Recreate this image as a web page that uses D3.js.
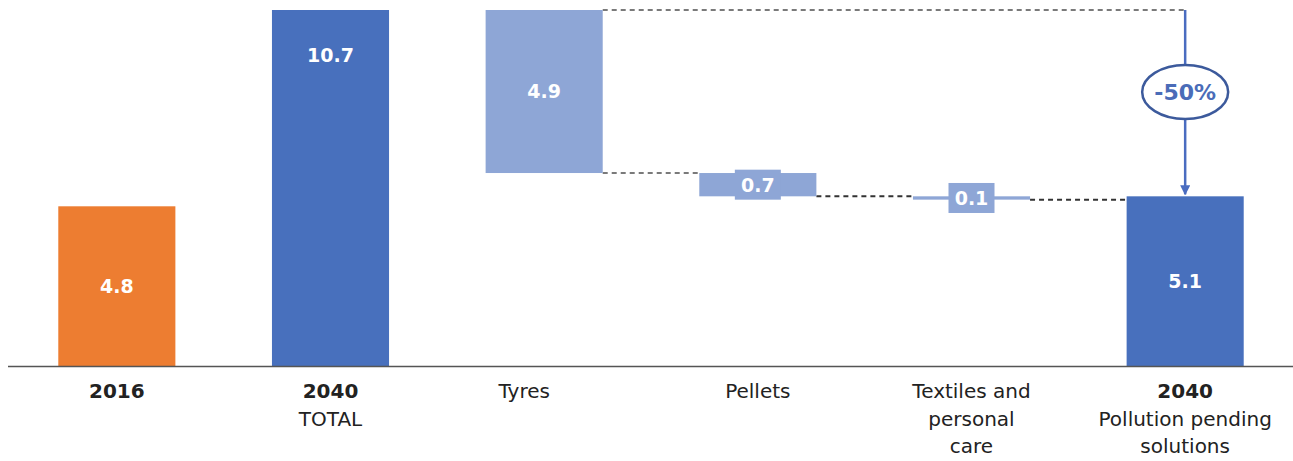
<!DOCTYPE html>
<html>
<head>
<meta charset="utf-8">
<script src="https://cdn.jsdelivr.net/npm/d3@7"></script>
<style>
  body { margin: 0; background: #fff; }
  text { font-family: "DejaVu Sans", sans-serif; }
</style>
</head>
<body>
<svg id="chart"></svg>
<script>
const width = 1293;
const height = 461;

// data
const categories = ["2016", "2040 TOTAL", "Tyres", "Pellets", "Textiles", "2040 pending"];
const labelLines = [
  [["2016", true]],
  [["2040", true], ["TOTAL", false]],
  [["Tyres", false]],
  [["Pellets", false]],
  [["Textiles and", false], ["personal", false], ["care", false]],
  [["2040", true], ["Pollution pending", false], ["solutions", false]]
];
const values = [4.8, 10.7, 4.9, 0.7, 0.1, 5.1];
const kinds = ["total", "total", "step", "step", "step", "total"];
const changeLabel = "-50%";

const colors = {
  "2016": "#ed7d31",
  total: "#4870bd",
  step: "#8ea6d6"
};

const svg = d3.select("#chart")
  .attr("width", width)
  .attr("height", height);

const baseY = 366;

const x = d3.scaleBand()
  .domain(categories)
  .range([10, 1292])
  .paddingInner(0.452)
  .paddingOuter(0.226);

const y = d3.scaleLinear()
  .domain([0, 10.7])
  .range([baseY, 10]);

// waterfall: steps go down from the previous total
let running = 0;
const bars = categories.map((c, i) => {
  let y0, y1;
  if (kinds[i] === "total") {
    y0 = 0; y1 = values[i]; running = values[i];
  } else {
    y1 = running; y0 = running - values[i]; running = y0;
  }
  return { cat: c, value: values[i], kind: kinds[i], y0, y1 };
});

// connectors
const conn = svg.append("g");
const tyres = bars[2], pellets = bars[3], textiles = bars[4], finalBar = bars[5];
const arrowX = x(finalBar.cat) + x.bandwidth() / 2;

conn.append("line")
  .attr("x1", x(tyres.cat) + x.bandwidth()).attr("x2", arrowX)
  .attr("y1", y(tyres.y1)).attr("y2", y(tyres.y1))
  .attr("stroke", "#7a7a7a").attr("stroke-width", 2).attr("stroke-dasharray", "5,4");

[[tyres, pellets, "#7a7a7a"], [pellets, textiles, "#333"], [textiles, finalBar, "#333"]].forEach(([a, b, col]) => {
  conn.append("line")
    .attr("x1", x(a.cat) + x.bandwidth()).attr("x2", x(b.cat))
    .attr("y1", y(a.y0)).attr("y2", y(a.y0))
    .attr("stroke", col).attr("stroke-width", 2).attr("stroke-dasharray", "5,4");
});

// bars
svg.append("g")
  .selectAll("rect")
  .data(bars)
  .join("rect")
  .attr("x", d => x(d.cat))
  .attr("width", x.bandwidth())
  .attr("y", d => y(d.y1))
  .attr("height", d => y(d.y0) - y(d.y1))
  .attr("fill", d => d.cat === "2016" ? colors["2016"] : colors[d.kind]);

// value labels
const vl = svg.append("g")
  .selectAll("g")
  .data(bars)
  .join("g")
  .attr("transform", d => {
    const cx = x(d.cat) + x.bandwidth() / 2;
    const cy = d.cat === "2040 TOTAL" ? y(d.y1) + 45 : (y(d.y0) + y(d.y1)) / 2;
    return `translate(${cx},${cy})`;
  });

vl.filter(d => d.kind === "step" && d.value < 1)
  .append("rect")
  .attr("x", -23).attr("y", -15)
  .attr("width", 46).attr("height", 30)
  .attr("fill", colors.step);

vl.append("text")
  .attr("text-anchor", "middle")
  .attr("dy", "0.36em")
  .attr("fill", "#fff")
  .attr("font-weight", "bold")
  .attr("font-size", 19)
  .text(d => d.value.toFixed(1));

// -50% arrow
const arrowTop = y(tyres.y1);
const arrowEnd = y(finalBar.y1) - 2;
const ell = { cy: 92, rx: 43, ry: 27 };

svg.append("defs").append("marker")
  .attr("id", "head")
  .attr("viewBox", "0 0 10 10")
  .attr("refX", 9).attr("refY", 5)
  .attr("markerWidth", 4).attr("markerHeight", 4)
  .attr("orient", "auto")
  .append("path").attr("d", "M0,0L10,5L0,10z").attr("fill", "#4a6cc0");

svg.append("line")
  .attr("x1", arrowX).attr("x2", arrowX)
  .attr("y1", arrowTop).attr("y2", arrowEnd)
  .attr("stroke", "#4a6cc0").attr("stroke-width", 2.5)
  .attr("marker-end", "url(#head)");

svg.append("ellipse")
  .attr("cx", arrowX).attr("cy", ell.cy)
  .attr("rx", ell.rx).attr("ry", ell.ry)
  .attr("fill", "#fff").attr("stroke", "#3c5a9c").attr("stroke-width", 2.5);

svg.append("text")
  .attr("x", arrowX).attr("y", ell.cy)
  .attr("dy", "0.36em")
  .attr("text-anchor", "middle")
  .attr("font-weight", "bold").attr("font-size", 22)
  .attr("fill", "#4a6cb8")
  .text(changeLabel);

// x axis
const xAxis = svg.append("g")
  .attr("transform", `translate(0,${baseY})`)
  .call(d3.axisBottom(x).tickSize(0).tickFormat(""));
xAxis.select(".domain").attr("stroke", "#555").attr("stroke-width", 1.5).attr("d", "M8,0.5H1293");

// category labels
const labels = svg.append("g")
  .selectAll("text")
  .data(categories)
  .join("text")
  .attr("x", d => x(d) + x.bandwidth() / 2 + (d === "Tyres" ? -20 : 0))
  .attr("y", baseY + 32)
  .attr("text-anchor", "middle")
  .attr("font-size", 20)
  .attr("fill", "#222");

labels.each(function (d, i) {
  const t = d3.select(this);
  labelLines[i].forEach(([line, bold], j) => {
    t.append("tspan")
      .attr("x", t.attr("x"))
      .attr("dy", j === 0 ? 0 : 27.5)
      .attr("font-weight", bold ? "bold" : "normal")
      .text(line);
  });
});
</script>
</body>
</html>
